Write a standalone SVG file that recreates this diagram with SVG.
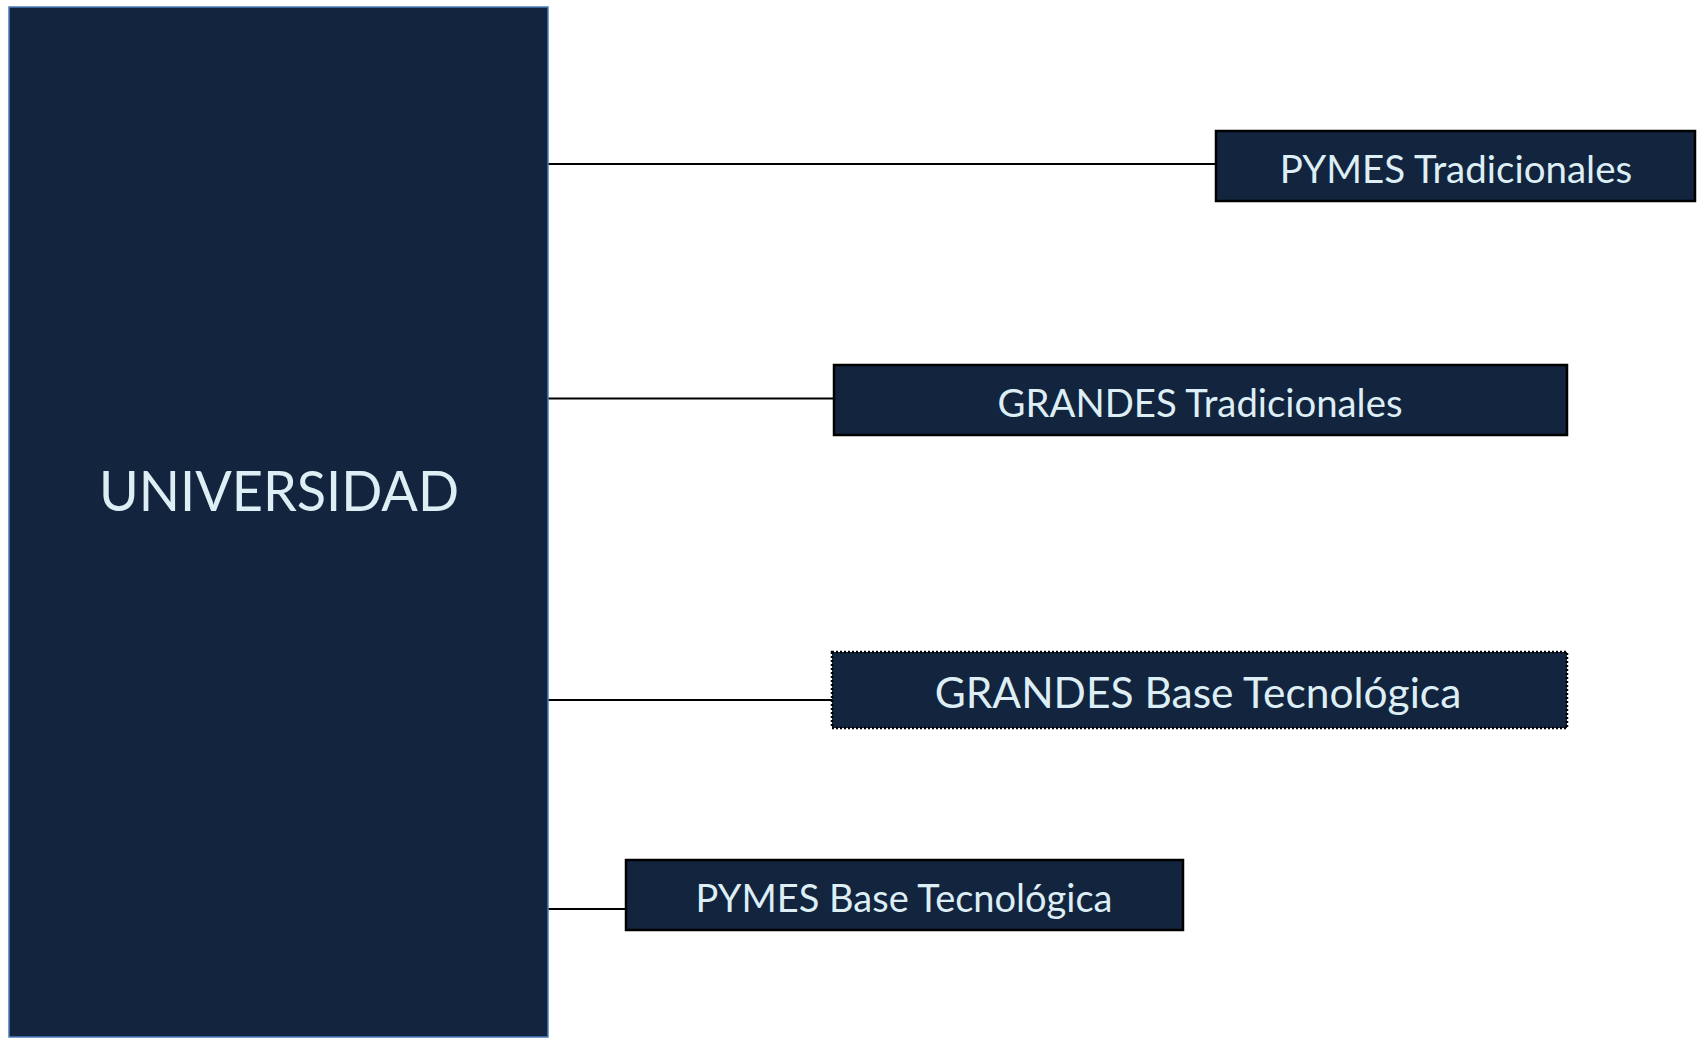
<svg xmlns="http://www.w3.org/2000/svg" width="1698" height="1038" viewBox="0 0 1698 1038">
<style>
.box{fill:#12243e;stroke:#000;stroke-width:2.5}
.lbl{fill:#ddeef5;font-family:Lato,"Open Sans","Liberation Sans",sans-serif;text-anchor:middle}
.conn{stroke:#000;stroke-width:2;fill:none}
</style>
<rect width="1698" height="1038" fill="#fff"/>
<g id="connectors">
<line class="conn" x1="548" y1="164" x2="1216" y2="164"/>
<line class="conn" x1="548" y1="398.5" x2="834" y2="398.5"/>
<line class="conn" x1="548" y1="700" x2="832" y2="700"/>
<line class="conn" x1="548" y1="909" x2="626" y2="909"/>
</g>
<g id="universidad">
<rect x="9" y="7" width="539" height="1030" fill="#12243e" stroke="#4a7ebb" stroke-width="1.5"/>
<text class="lbl" x="279" y="511" font-size="57" textLength="360" lengthAdjust="spacingAndGlyphs">UNIVERSIDAD</text>
</g>
<g id="pymes-tradicionales">
<rect class="box" x="1216" y="131" width="479" height="70"/>
<text class="lbl" x="1456" y="182.5" font-size="38.5">PYMES Tradicionales</text>
</g>
<g id="grandes-tradicionales">
<rect class="box" x="834" y="365" width="733" height="70"/>
<text class="lbl" x="1200" y="417" font-size="38.3">GRANDES Tradicionales</text>
</g>
<g id="grandes-base">
<rect class="box" x="832" y="652" width="735" height="76" stroke-dasharray="2 2" stroke-width="2"/>
<text class="lbl" x="1198" y="708" font-size="42.5">GRANDES Base Tecnológica</text>
</g>
<g id="pymes-base">
<rect class="box" x="626" y="860" width="557" height="70"/>
<text class="lbl" x="904" y="912" font-size="38">PYMES Base Tecnológica</text>
</g>
</svg>
